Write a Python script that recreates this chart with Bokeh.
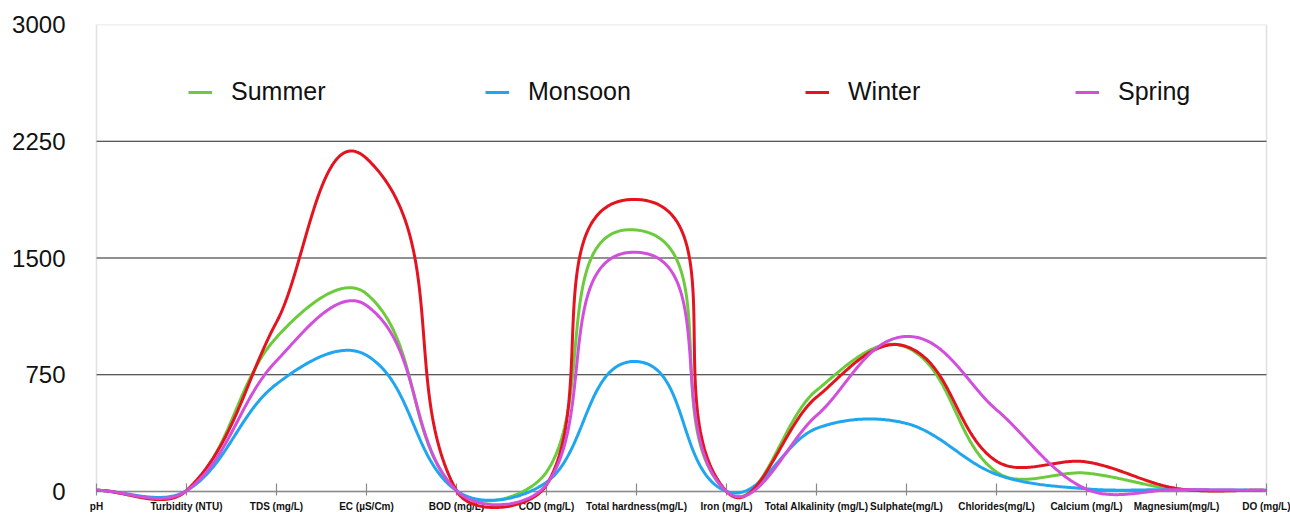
import numpy as np
from bokeh.plotting import figure
from bokeh.models import (Range1d, FixedTicker, LinearAxis, Legend, LegendItem,
                          BoxAnnotation, Whisker, ColumnDataSource)
from bokeh.embed import file_html
from bokeh.resources import INLINE

# ---------------- data ----------------
categories = ["pH", "Turbidity (NTU)", "TDS (mg/L)", "EC (µS/Cm)", "BOD (mg/L)",
              "COD (mg/L)", "Total hardness(mg/L)", "Iron (mg/L)",
              "Total Alkalinity (mg/L)", "Sulphate(mg/L)", "Chlorides(mg/L)",
              "Calcium (mg/L)", "Magnesium(mg/L)", "DO (mg/L)"]
summer = [8, 6, 990, 1270, 6, 125, 1680, 1, 650, 927, 125, 118, 14, 8]
monsoon = [7.5, 5, 690, 875, 5, 60, 835, 1, 405, 437, 110, 17, 12, 8]
winter = [8, 6, 1088, 2140, 5, 42, 1876, 0.5, 606, 931, 195, 190, 20, 7]
spring = [7.8, 5, 840, 1195, 5, 45, 1537, 0.5, 488, 996, 525, 15, 12, 7]
series_names = ["Summer", "Monsoon", "Winter", "Spring"]
y_ticks = [0, 750, 1500, 2250, 3000]
grid_ticks = [750, 1500, 2250]

colors = ["#6CCB3C", "#1FA6EE", "#E3141F", "#D24FDC"]

# ---------------- layout ----------------
W, H = 1290, 515
NC = len(categories)
LAST = NC - 1
SX = 90.0                      # px per category step
PAD_L, PAD_R = 10, 24          # frame padding (px) outside the first/last category
ML, MR, MT, MB = 86, 0, 24, 0
FH = H - MT - MB
YMAX = 3000
SY = 467.0 / 3000.0            # px per unit
YMIN = YMAX - FH / SY


def smooth(vals, n=60):
    """Excel-like smoothed line: Bezier segments whose control points lie
    along the neighbour direction at one third of the segment length."""
    P = np.array([[i * SX, v * SY] for i, v in enumerate(vals)], dtype=float)
    N = len(P)

    def unit(v):
        d = np.linalg.norm(v)
        return v / d if d > 0 else v

    xs, ys = [], []
    for i in range(N - 1):
        p1, p2 = P[i], P[i + 1]
        p0 = P[i - 1] if i > 0 else P[i]
        p3 = P[i + 2] if i + 2 < N else P[i + 1]
        b = np.linalg.norm(p2 - p1)
        c1 = p1 + unit(p2 - p0) * b / 3
        c2 = p2 - unit(p3 - p1) * b / 3
        t = np.linspace(0, 1, n)[:, None]
        pts = ((1 - t) ** 3) * p1 + 3 * ((1 - t) ** 2) * t * c1 \
            + 3 * (1 - t) * t ** 2 * c2 + t ** 3 * p2
        if i > 0:
            pts = pts[1:]
        xs.extend(pts[:, 0] / SX)
        ys.extend(pts[:, 1] / SY)
    return xs, ys


p = figure(width=W, height=H, output_backend="svg", toolbar_location=None,
           x_range=Range1d(-PAD_L / SX, LAST + PAD_R / SX),
           y_range=Range1d(YMIN, YMAX),
           x_axis_type=None, y_axis_location="left",
           min_border_left=ML, min_border_right=MR, min_border_top=MT,
           min_border_bottom=MB)
p.outline_line_color = None
p.background_fill_color = "white"
p.border_fill_color = "white"

# y axis
p.yaxis.ticker = FixedTicker(ticks=y_ticks)
p.yaxis.axis_line_color = None
p.yaxis.major_tick_line_color = None
p.yaxis.minor_tick_line_color = None
p.yaxis.major_label_text_font = "Liberation Sans"
p.yaxis.major_label_text_font_size = "24px"
p.yaxis.major_label_text_color = "#111111"
p.yaxis.major_label_standoff = 15

# grid lines limited to the plot area
p.xgrid.grid_line_color = None
p.ygrid.grid_line_color = None
grid_src = ColumnDataSource(dict(base=grid_ticks, lower=[0] * len(grid_ticks),
                                 upper=[LAST] * len(grid_ticks)))
p.add_layout(Whisker(source=grid_src, base="base", lower="lower", upper="upper",
                     dimension="width", line_color="#222222", line_width=1.2,
                     lower_head=None, upper_head=None, level="underlay"))

# plot-area border (gray) from 0 to 3000
p.add_layout(BoxAnnotation(left=0, right=LAST, bottom=0, top=YMAX,
                           fill_alpha=0, line_color="#9a9a9a", line_width=1.5,
                           level="underlay"))

# x axis at value 0
xaxis = LinearAxis(fixed_location=0, bounds=(0, LAST))
xaxis.ticker = FixedTicker(ticks=list(range(NC)))
xaxis.major_label_overrides = {i: c for i, c in enumerate(categories)}
xaxis.axis_line_color = "#8a8a8a"
xaxis.axis_line_width = 1.5
xaxis.major_tick_line_color = "#8a8a8a"
xaxis.major_tick_line_width = 1.2
xaxis.major_tick_in = 8
xaxis.major_tick_out = 4
xaxis.minor_tick_line_color = None
xaxis.major_label_standoff = 5
xaxis.major_label_text_font = "Liberation Sans"
xaxis.major_label_text_font_style = "bold"
xaxis.major_label_text_font_size = "10px"
xaxis.major_label_text_color = "#111111"
p.add_layout(xaxis, "below")

renderers = []
for name, vals, col in zip(series_names, [summer, monsoon, winter, spring], colors):
    xs, ys = smooth(vals)
    r = p.line(xs, ys, line_color=col, line_width=3, level="overlay")
    renderers.append(r)

legend_x = [102, 399, 719, 989]
for name, r, lx in zip(series_names, renderers, legend_x):
    leg = Legend(items=[LegendItem(label=name, renderers=[r])], location=(lx, 409),
                 border_line_color=None, background_fill_alpha=0, padding=0,
                 margin=0, glyph_width=24, glyph_height=22, label_standoff=19,
                 label_text_font="Liberation Sans", label_text_font_size="25px",
                 label_text_color="#111111", label_text_baseline="middle")
    p.add_layout(leg)

open("out.html", "w").write(file_html(p, INLINE))
